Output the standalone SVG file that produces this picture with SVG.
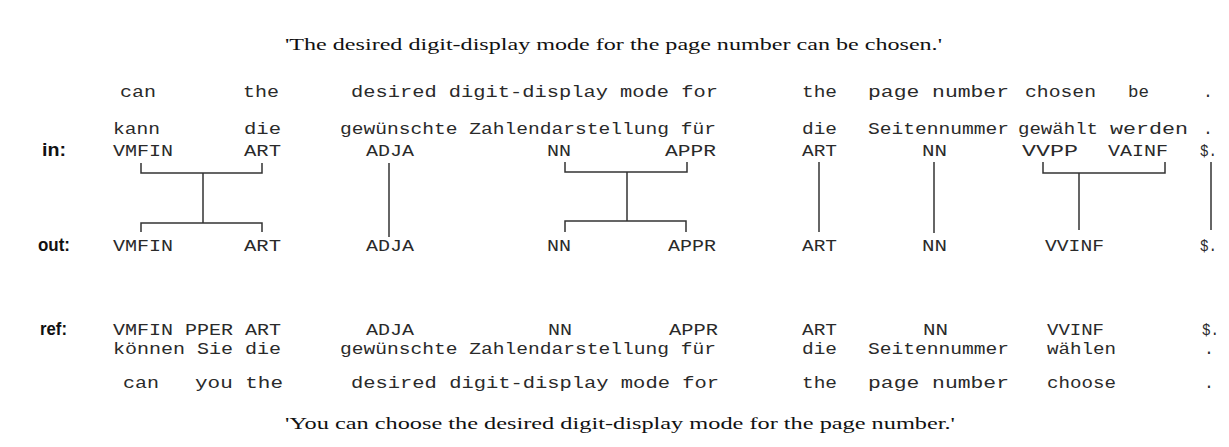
<svg xmlns="http://www.w3.org/2000/svg" width="1229" height="447" viewBox="0 0 1229 447">
<style>
.m{font-family:"Liberation Mono","DejaVu Sans Mono",monospace;font-size:16.5px;fill:#2a2a2a}
.t{font-family:"Liberation Serif","Times New Roman",serif;font-size:17.5px;fill:#111}
.l{font-family:"Liberation Sans",Arial,sans-serif;font-weight:bold;font-size:17.5px;fill:#111}
.c{stroke:#333;stroke-width:1.5;fill:none}
</style>
<rect width="1229" height="447" fill="#fff"/>
<g id="title-top"><text class="t" x="285" y="50" textLength="657" lengthAdjust="spacingAndGlyphs">'The desired digit-display mode for the page number can be chosen.'</text></g>
<g id="labels">
<text class="l" x="42" y="156" textLength="24" lengthAdjust="spacingAndGlyphs">in:</text>
<text class="l" x="38" y="251" textLength="32" lengthAdjust="spacingAndGlyphs">out:</text>
<text class="l" x="40" y="335" textLength="27" lengthAdjust="spacingAndGlyphs">ref:</text>
</g>
<g id="gloss-in">
<text class="m" x="120" y="97" textLength="36" lengthAdjust="spacingAndGlyphs">can</text>
<text class="m" x="243" y="97" textLength="36" lengthAdjust="spacingAndGlyphs">the</text>
<text class="m" x="351" y="97" textLength="367" lengthAdjust="spacingAndGlyphs">desired digit-display mode for</text>
<text class="m" x="802" y="97" textLength="35" lengthAdjust="spacingAndGlyphs">the</text>
<text class="m" x="868" y="97" textLength="141" lengthAdjust="spacingAndGlyphs">page number</text>
<text class="m" x="1025" y="97" textLength="71" lengthAdjust="spacingAndGlyphs">chosen</text>
<text class="m" x="1128" y="97" textLength="21" lengthAdjust="spacingAndGlyphs">be</text>
<text class="m" x="1203" y="97">.</text>
</g>
<g id="words-in">
<text class="m" x="113" y="134" textLength="47" lengthAdjust="spacingAndGlyphs">kann</text>
<text class="m" x="244" y="134" textLength="37" lengthAdjust="spacingAndGlyphs">die</text>
<text class="m" x="340" y="134" textLength="376" lengthAdjust="spacingAndGlyphs">gewünschte Zahlendarstellung für</text>
<text class="m" x="802" y="134" textLength="35" lengthAdjust="spacingAndGlyphs">die</text>
<text class="m" x="868" y="134" textLength="141" lengthAdjust="spacingAndGlyphs">Seitennummer</text>
<text class="m" x="1018" y="134" textLength="80" lengthAdjust="spacingAndGlyphs">gewählt</text>
<text class="m" x="1110" y="134" textLength="78" lengthAdjust="spacingAndGlyphs">werden</text>
<text class="m" x="1203" y="134">.</text>
</g>
<g id="in-VMFIN"><text class="m" x="113" y="156" textLength="60" lengthAdjust="spacingAndGlyphs">VMFIN</text></g>
<g id="in-ART1"><text class="m" x="244" y="156" textLength="37" lengthAdjust="spacingAndGlyphs">ART</text></g>
<g id="in-ADJA"><text class="m" x="366" y="156" textLength="48" lengthAdjust="spacingAndGlyphs">ADJA</text></g>
<g id="in-NN1"><text class="m" x="547" y="156" textLength="24" lengthAdjust="spacingAndGlyphs">NN</text></g>
<g id="in-APPR"><text class="m" x="665" y="156" textLength="51" lengthAdjust="spacingAndGlyphs">APPR</text></g>
<g id="in-ART2"><text class="m" x="802" y="156" textLength="35" lengthAdjust="spacingAndGlyphs">ART</text></g>
<g id="in-NN2"><text class="m" x="922" y="156" textLength="25" lengthAdjust="spacingAndGlyphs">NN</text></g>
<g id="in-VVPP"><text class="m" x="1022" y="156" textLength="56" lengthAdjust="spacingAndGlyphs">VVPP</text></g>
<g id="in-VAINF"><text class="m" x="1108" y="156" textLength="60" lengthAdjust="spacingAndGlyphs">VAINF</text></g>
<g id="in-PUNCT"><text class="m" x="1200" y="156" textLength="17" lengthAdjust="spacingAndGlyphs">$.</text></g>
<g id="out-VMFIN"><text class="m" x="113" y="251" textLength="60" lengthAdjust="spacingAndGlyphs">VMFIN</text></g>
<g id="out-ART1"><text class="m" x="244" y="251" textLength="37" lengthAdjust="spacingAndGlyphs">ART</text></g>
<g id="out-ADJA"><text class="m" x="366" y="251" textLength="48" lengthAdjust="spacingAndGlyphs">ADJA</text></g>
<g id="out-NN1"><text class="m" x="547" y="251" textLength="24" lengthAdjust="spacingAndGlyphs">NN</text></g>
<g id="out-APPR"><text class="m" x="668" y="251" textLength="48" lengthAdjust="spacingAndGlyphs">APPR</text></g>
<g id="out-ART2"><text class="m" x="802" y="251" textLength="35" lengthAdjust="spacingAndGlyphs">ART</text></g>
<g id="out-NN2"><text class="m" x="922" y="251" textLength="25" lengthAdjust="spacingAndGlyphs">NN</text></g>
<g id="out-VVINF"><text class="m" x="1045" y="251" textLength="59" lengthAdjust="spacingAndGlyphs">VVINF</text></g>
<g id="out-PUNCT"><text class="m" x="1200" y="251" textLength="17" lengthAdjust="spacingAndGlyphs">$.</text></g>
<g id="ref">
<text class="m" x="113" y="335" textLength="168" lengthAdjust="spacingAndGlyphs">VMFIN PPER ART</text>
<text class="m" x="366" y="335" textLength="48" lengthAdjust="spacingAndGlyphs">ADJA</text>
<text class="m" x="548" y="335" textLength="24" lengthAdjust="spacingAndGlyphs">NN</text>
<text class="m" x="669" y="335" textLength="49" lengthAdjust="spacingAndGlyphs">APPR</text>
<text class="m" x="802" y="335" textLength="35" lengthAdjust="spacingAndGlyphs">ART</text>
<text class="m" x="923" y="335" textLength="25" lengthAdjust="spacingAndGlyphs">NN</text>
<text class="m" x="1047" y="335" textLength="57" lengthAdjust="spacingAndGlyphs">VVINF</text>
<text class="m" x="1202" y="335" textLength="17" lengthAdjust="spacingAndGlyphs">$.</text>
<text class="m" x="113" y="354" textLength="168" lengthAdjust="spacingAndGlyphs">können Sie die</text>
<text class="m" x="340" y="354" textLength="376" lengthAdjust="spacingAndGlyphs">gewünschte Zahlendarstellung für</text>
<text class="m" x="802" y="354" textLength="35" lengthAdjust="spacingAndGlyphs">die</text>
<text class="m" x="868" y="354" textLength="141" lengthAdjust="spacingAndGlyphs">Seitennummer</text>
<text class="m" x="1047" y="354" textLength="69" lengthAdjust="spacingAndGlyphs">wählen</text>
<text class="m" x="1204" y="354">.</text>
<text class="m" x="123" y="388" textLength="36" lengthAdjust="spacingAndGlyphs">can</text>
<text class="m" x="195" y="388" textLength="88" lengthAdjust="spacingAndGlyphs">you the</text>
<text class="m" x="351" y="388" textLength="368" lengthAdjust="spacingAndGlyphs">desired  digit-display mode for</text>
<text class="m" x="802" y="388" textLength="35" lengthAdjust="spacingAndGlyphs">the</text>
<text class="m" x="868" y="388" textLength="141" lengthAdjust="spacingAndGlyphs">page number</text>
<text class="m" x="1047" y="388" textLength="69" lengthAdjust="spacingAndGlyphs">choose</text>
<text class="m" x="1204" y="388">.</text>
</g>
<g id="title-bottom"><text class="t" x="285" y="429" textLength="670" lengthAdjust="spacingAndGlyphs">'You can choose the desired digit-display mode for the page number.'</text></g>
<g id="connectors" class="c">
<path d="M141,163 V173 H262 V163 M203,173 V223 M141,232 V223 H262 V232"/>
<path d="M389,163 V237"/>
<path d="M565,162 V172 H687 V162 M627,172 V221 M565,232 V221 H686 V232"/>
<path d="M819,162 V232"/>
<path d="M934,162 V233"/>
<path d="M1043,162 V173 H1165 V162 M1079,173 V230"/>
<path d="M1211,162 V230"/>
</g>
</svg>
